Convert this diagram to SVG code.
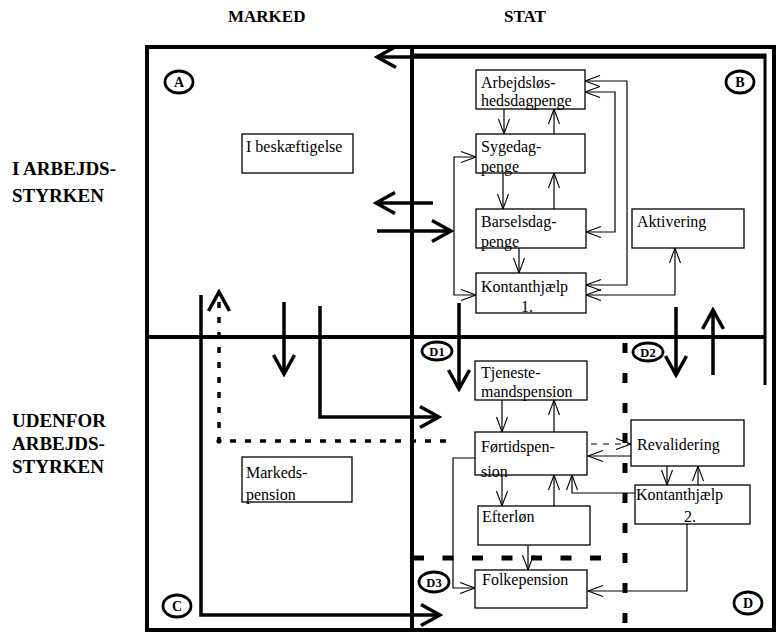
<svg xmlns="http://www.w3.org/2000/svg" width="781" height="634" viewBox="0 0 781 634">
<style>
.frame{stroke:#000;stroke-width:4;fill:none}
.thick{stroke:#000;stroke-width:3.5;fill:none}
.thin{stroke:#000;stroke-width:1.2;fill:none}
.box{fill:#fff;stroke:#000;stroke-width:1.3}
.t{font-family:"Liberation Serif",serif;font-size:16px;fill:#000}
.lbl{font-family:"Liberation Serif",serif;font-weight:bold;font-size:19px;fill:#000}
.top{font-family:"Liberation Serif",serif;font-weight:bold;font-size:17px;fill:#000}
.circ{fill:none;stroke:#000;stroke-width:2.8}
.ct{font-family:"Liberation Serif",serif;font-weight:bold;font-size:14px;text-anchor:middle;fill:#000}
.cts{font-family:"Liberation Serif",serif;font-weight:bold;font-size:12.5px;text-anchor:middle;fill:#000}
</style>
<defs>
<marker id="ah" markerUnits="userSpaceOnUse" viewBox="-24 -14 27 28" markerWidth="27" markerHeight="28" refX="0" refY="0" orient="auto">
<path d="M-19,-10.5 L0,0 L-19,10.5" fill="none" stroke="#000" stroke-width="3.5"/>
</marker>
<marker id="as" markerUnits="userSpaceOnUse" viewBox="-18 -8 20 16" markerWidth="20" markerHeight="16" refX="0" refY="0" orient="auto-start-reverse">
<path d="M-15,-5.5 L0,0 L-15,5.5" fill="none" stroke="#000" stroke-width="1.1"/>
</marker>
</defs>

<g id="labels">
<text class="top" x="228" y="22">MARKED</text>
<text class="top" x="504" y="22">STAT</text>
<text class="lbl" x="12" y="175">I ARBEJDS-</text>
<text class="lbl" x="12" y="202">STYRKEN</text>
<text class="lbl" x="12" y="427">UDENFOR</text>
<text class="lbl" x="12" y="450">ARBEJDS-</text>
<text class="lbl" x="12" y="473">STYRKEN</text>
</g>

<g id="frame">
<rect class="frame" x="147" y="47" width="627" height="583"/>
<path class="frame" d="M412,47 V630 M147,337 H765"/>
<path d="M412,55 H765 V385" fill="none" stroke="#000" stroke-width="3"/>
<path d="M625,343 V630" fill="none" stroke="#000" stroke-width="5" stroke-dasharray="10 20"/>
<path d="M413,558 H605" fill="none" stroke="#000" stroke-width="5" stroke-dasharray="11 18.5"/>
</g>

<g id="quadrant-labels">
<g id="qA"><ellipse class="circ" cx="179" cy="82" rx="14" ry="11"/><text class="ct" x="179" y="87">A</text></g>
<g id="qB"><ellipse class="circ" cx="740" cy="82" rx="14" ry="11"/><text class="ct" x="740" y="87">B</text></g>
<g id="qC"><ellipse class="circ" cx="177" cy="606" rx="14" ry="11"/><text class="ct" x="177" y="611">C</text></g>
<g id="qD"><ellipse class="circ" cx="748" cy="603" rx="14" ry="11"/><text class="ct" x="748" y="608">D</text></g>
<g id="qD1"><ellipse class="circ" cx="437" cy="351" rx="15" ry="9"/><text class="cts" x="437" y="356">D1</text></g>
<g id="qD2"><ellipse class="circ" cx="648" cy="352" rx="15" ry="9"/><text class="cts" x="648" y="357">D2</text></g>
<g id="qD3"><ellipse class="circ" cx="434" cy="582" rx="15" ry="10"/><text class="cts" x="434" y="587">D3</text></g>
</g>

<g id="connectors">
<path class="thick" d="M765,57 H377" marker-end="url(#ah)"/>
<path class="thick" d="M433,203 H376" marker-end="url(#ah)"/>
<path class="thick" d="M377,231 H451" marker-end="url(#ah)"/>
<path class="thick" d="M459,303 V389" marker-end="url(#ah)"/>
<path class="thick" d="M676,307 V375" marker-end="url(#ah)"/>
<path class="thick" d="M713,375 V310" marker-end="url(#ah)"/>
<path class="thick" d="M201,295 V615 H440" marker-end="url(#ah)"/>
<path class="thick" d="M284,302 V374" marker-end="url(#ah)"/>
<path class="thick" d="M320,306 V417 H439" marker-end="url(#ah)"/>
<path class="thick" d="M446,441 H219 V292" stroke-dasharray="6 9" marker-end="url(#ah)"/>
<circle cx="219" cy="441" r="2.6" fill="#000"/>

<path class="thin" d="M504,109 V134" marker-end="url(#as)"/>
<path class="thin" d="M554,134 V109" marker-end="url(#as)"/>
<path class="thin" d="M503,173 V209" marker-end="url(#as)"/>
<path class="thin" d="M554,209 V173" marker-end="url(#as)"/>
<path class="thin" d="M519,248 V273" marker-end="url(#as)"/>
<path class="thin" d="M476,157 H454 V295 H476" marker-start="url(#as)" marker-end="url(#as)"/>
<path class="thin" d="M585,81 H627 V285 H586" marker-start="url(#as)" marker-end="url(#as)"/>
<path class="thin" d="M585,92 H615 V232 H586" marker-start="url(#as)" marker-end="url(#as)"/>
<path class="thin" d="M586,295 H675 V248" marker-start="url(#as)" marker-end="url(#as)"/>

<path class="thin" d="M502,400 V432" marker-end="url(#as)"/>
<path class="thin" d="M554,432 V400" marker-end="url(#as)"/>
<path class="thin" d="M591,444 H631" stroke-dasharray="6 6" marker-end="url(#as)"/>
<path class="thin" d="M631,456 H588" marker-end="url(#as)"/>
<path class="thin" d="M667,466 V485" marker-end="url(#as)"/>
<path class="thin" d="M698,485 V466" marker-end="url(#as)"/>
<path class="thin" d="M502,475 V506" marker-end="url(#as)"/>
<path class="thin" d="M554,506 V475" marker-end="url(#as)"/>
<path class="thin" d="M635,493 H572 V475" marker-end="url(#as)"/>
<path class="thin" d="M528,545 V570" marker-end="url(#as)"/>
<path class="thin" d="M475,458 H453 V588 H475" marker-end="url(#as)"/>
<path class="thin" d="M687,524 V591 H588" marker-end="url(#as)"/>
</g>

<g id="n-beskaeftigelse"><rect class="box" x="242" y="134" width="111" height="39"/><text class="t" x="246" y="152">I beskæftigelse</text></g>
<g id="n-markedspension"><rect class="box" x="242" y="457" width="110" height="45"/><text class="t" x="246" y="478">Markeds-</text><text class="t" x="246" y="500">pension</text></g>

<g id="n-arbejdsloshed"><rect class="box" x="476" y="70" width="109" height="39"/><text class="t" x="481" y="88">Arbejdsløs-</text><text class="t" x="481" y="106">hedsdagpenge</text></g>
<g id="n-sygedagpenge"><rect class="box" x="476" y="134" width="109" height="39"/><text class="t" x="481" y="152">Sygedag-</text><text class="t" x="481" y="172">penge</text></g>
<g id="n-barselsdagpenge"><rect class="box" x="476" y="209" width="110" height="39"/><text class="t" x="481" y="227">Barselsdag-</text><text class="t" x="481" y="247">penge</text></g>
<g id="n-aktivering"><rect class="box" x="632" y="209" width="112" height="39"/><text class="t" x="637" y="227">Aktivering</text></g>
<g id="n-kontanthjaelp1"><rect class="box" x="476" y="273" width="110" height="40"/><text class="t" x="481" y="292">Kontanthjælp</text><text class="t" x="527" y="312" text-anchor="middle">1.</text></g>

<g id="n-tjenestemandspension"><rect class="box" x="475" y="361" width="112" height="39"/><text class="t" x="481" y="378">Tjeneste-</text><text class="t" x="481" y="397">mandspension</text></g>
<g id="n-fortidspension"><rect class="box" x="475" y="432" width="112" height="43"/><text class="t" x="481" y="452">Førtidspen-</text><text class="t" x="481" y="477">sion</text></g>
<g id="n-revalidering"><rect class="box" x="631" y="420" width="113" height="46"/><text class="t" x="637" y="450">Revalidering</text></g>
<g id="n-kontanthjaelp2"><rect class="box" x="635" y="485" width="115" height="39"/><text class="t" x="636" y="500">Kontanthjælp</text><text class="t" x="690" y="522" text-anchor="middle">2.</text></g>
<g id="n-efterlon"><rect class="box" x="478" y="506" width="112" height="39"/><text class="t" x="482" y="522">Efterløn</text></g>
<g id="n-folkepension"><rect class="box" x="475" y="570" width="112" height="38"/><text class="t" x="482" y="585">Folkepension</text></g>
</svg>
